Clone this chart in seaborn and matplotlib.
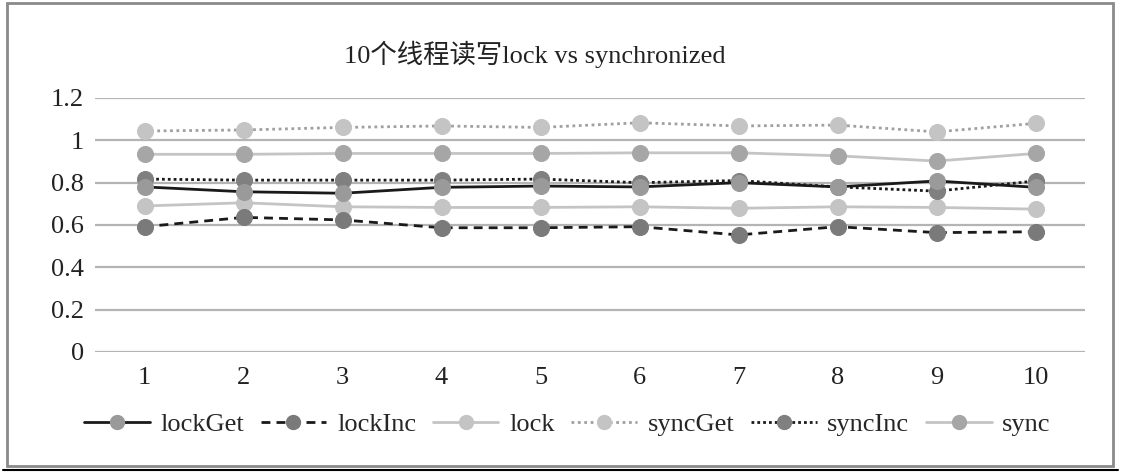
import matplotlib
matplotlib.use("Agg")
import matplotlib.pyplot as plt
import pandas as pd
import seaborn as sns
from matplotlib.patches import Rectangle
from matplotlib.lines import Line2D

threads = [1, 2, 3, 4, 5, 6, 7, 8, 9, 10]
lock_get = [0.78, 0.757, 0.75, 0.778, 0.784, 0.78, 0.80, 0.78, 0.808, 0.778]
lock_inc = [0.592, 0.636, 0.624, 0.587, 0.587, 0.592, 0.553, 0.592, 0.564, 0.568]
lock = [0.69, 0.705, 0.686, 0.683, 0.683, 0.686, 0.679, 0.686, 0.683, 0.675]
sync_get = [1.044, 1.049, 1.061, 1.068, 1.061, 1.083, 1.068, 1.072, 1.04, 1.08]
sync_inc = [0.817, 0.812, 0.812, 0.812, 0.817, 0.80, 0.81, 0.78, 0.76, 0.808]
sync = [0.934, 0.934, 0.938, 0.938, 0.938, 0.941, 0.941, 0.927, 0.902, 0.938]

series = {
    "lockGet": lock_get,
    "lockInc": lock_inc,
    "lock": lock,
    "syncGet": sync_get,
    "syncInc": sync_inc,
    "sync": sync,
}
# line colour, line style, marker colour, z-order
styles = {
    "lockGet": ("#1a1a1a", "-", "#9a9a9a", 5),
    "lockInc": ("#1a1a1a", (0, (3.2, 2.2)), "#7a7a7a", 4),
    "lock": ("#c4c4c4", "-", "#c4c4c4", 3),
    "syncGet": ("#a0a0a0", (0, (1, 1.3)), "#c4c4c4", 3),
    "syncInc": ("#1a1a1a", (0, (1, 1.1)), "#808080", 4),
    "sync": ("#c4c4c4", "-", "#a6a6a6", 3),
}

df = pd.DataFrame(
    [(t, name, v) for name, vals in series.items() for t, v in zip(threads, vals)],
    columns=["threads", "series", "value"],
)

sns.set_style("white")
plt.rcParams["font.family"] = ["Liberation Serif", "Noto Sans CJK SC"]

fig = plt.figure(figsize=(11.21, 4.76), dpi=100)
ax = fig.add_axes([95 / 1121, 124 / 476, 990 / 1121, 254 / 476])

for name in series:
    lc, ls, mc, z = styles[name]
    sub = df[df["series"] == name]
    sns.lineplot(
        data=sub, x="threads", y="value", ax=ax, color=lc, linestyle=ls,
        linewidth=2.0, marker="o", markersize=11.5, markerfacecolor=mc,
        markeredgecolor=mc, zorder=z, legend=False,
    )

ax.set_xlim(0.5, 10.5)
ax.set_ylim(0, 1.2)
ax.set_xticks(threads)
ax.set_yticks([0, 0.2, 0.4, 0.6, 0.8, 1.0, 1.2])
ax.set_yticklabels(["0", "0.2", "0.4", "0.6", "0.8", "1", "1.2"])
ax.yaxis.grid(True, color="#b4b4b4", linewidth=1.6)
ax.set_axisbelow(True)
for s in ax.spines.values():
    s.set_visible(False)
ax.tick_params(axis="both", length=0, labelsize=19, colors="#222222")
ax.tick_params(axis="y", pad=8)
ax.tick_params(axis="x", pad=11)
ax.set_xlabel("")
ax.set_ylabel("")

fig.text(0.477, 0.885, "10个线程读写lock vs synchronized", ha="center",
         va="center", fontsize=19, color="#222222")

handles = []
for name in series:
    lc, ls, mc, z = styles[name]
    handles.append(Line2D([], [], color=lc, linestyle=ls, linewidth=2.0,
                          marker="o", markersize=10, markerfacecolor=mc,
                          markeredgecolor=mc))
fig.legend(handles, list(series.keys()), loc="center", ncol=6,
           bbox_to_anchor=(0.506, 0.108), frameon=False, fontsize=19,
           handlelength=2.5, columnspacing=0.62, handletextpad=0.4)

fig.add_artist(Rectangle((7 / 1121, 10 / 476), 1106 / 1121, 463 / 476,
                         transform=fig.transFigure, fill=False,
                         edgecolor="#8a8a8a", linewidth=2))
fig.add_artist(Line2D([0.003, 0.997], [6 / 476, 6 / 476],
                      transform=fig.transFigure, color="black", linewidth=1.5))

fig.savefig("out.png", dpi=100)
